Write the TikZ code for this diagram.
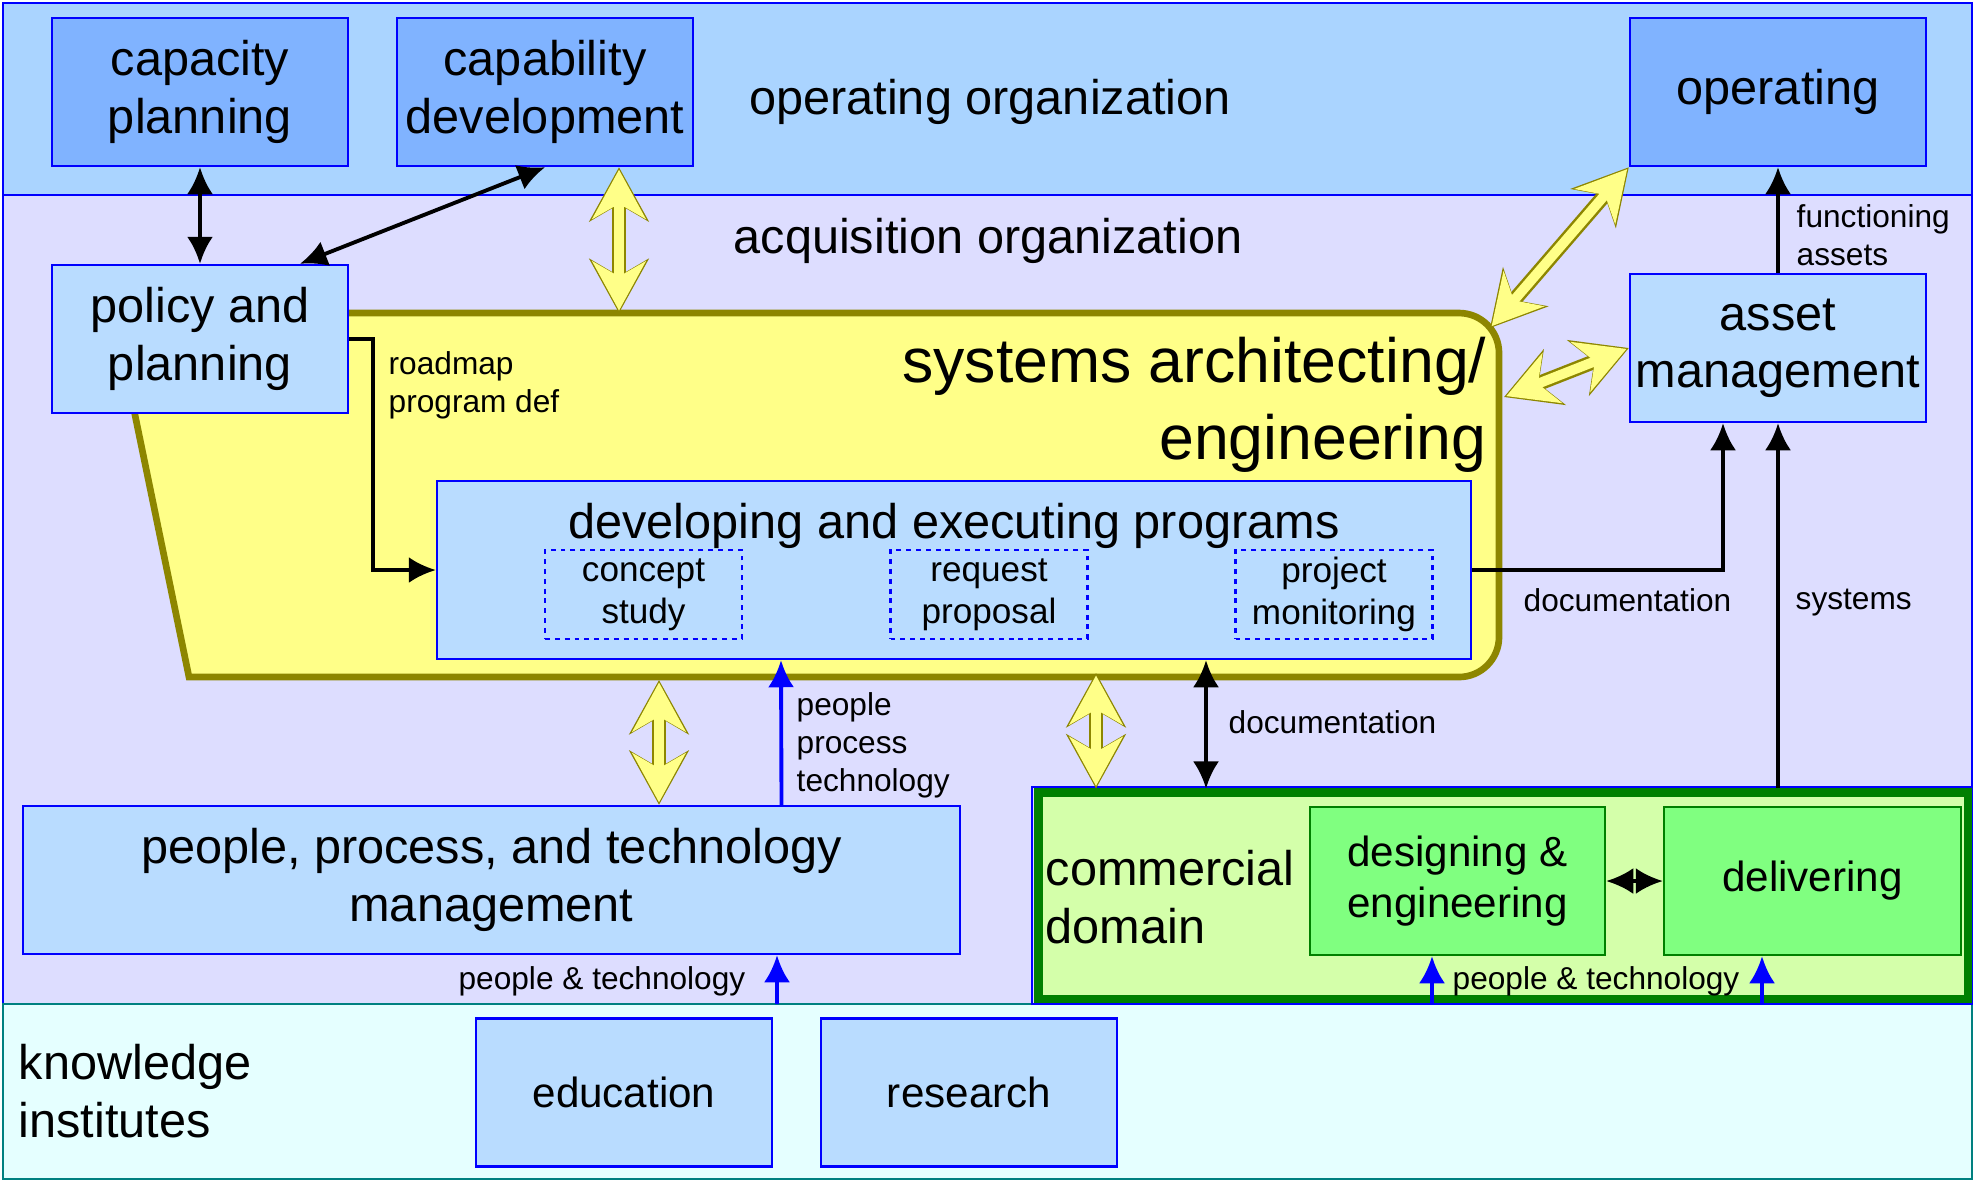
\documentclass[tikz,border=0pt]{standalone}
\usepackage{fontspec}
\setmainfont{Liberation Sans}
\usetikzlibrary{arrows.meta,calc,positioning}

\definecolor{opblue}{RGB}{170,212,255}
\definecolor{acqlav}{RGB}{221,221,255}
\definecolor{knowcyan}{RGB}{229,255,255}
\definecolor{knowteal}{RGB}{0,128,128}
\definecolor{boxdark}{RGB}{128,179,255}
\definecolor{boxlight}{RGB}{185,220,255}
\definecolor{saeyellow}{RGB}{255,255,136}
\definecolor{commgreen}{RGB}{212,255,170}
\definecolor{boxgreen}{RGB}{128,255,128}
\definecolor{darkgreen}{RGB}{0,128,0}

\tikzset{
myband/.style={
  rectangle,
  line width=0.7pt,
  draw=blue,
  inner sep=0pt,
  }
}
\tikzset{
mybox/.style={
  rectangle,
  line width=0.7pt,
  draw=blue,
  fill=boxlight,
  minimum width=2.96cm,
  minimum height=1.48cm,
  inner sep=0pt,
  align=center,
  font=\fontsize{13.85}{16.3}\selectfont,
  }
}
\tikzset{
mydarkbox/.style={
  mybox,
  fill=boxdark,
  }
}
\tikzset{
mygreenbox/.style={
  mybox,
  draw=darkgreen,
  fill=boxgreen,
  font=\fontsize{12}{14.3}\selectfont,
  }
}
\tikzset{
mydotbox/.style={
  rectangle,
  line width=0.6pt,
  draw=blue,
  dash pattern=on 1.4pt off 1.4pt,
  minimum width=1.97cm,
  minimum height=0.89cm,
  inner sep=0pt,
  align=center,
  font=\fontsize{10}{11.9}\selectfont,
  }
}
\tikzset{
mytext/.style={
  inner sep=0pt,
  align=left,
  font=\fontsize{13.85}{16.3}\selectfont,
  }
}
\tikzset{
mylabel/.style={
  inner sep=0pt,
  align=left,
  font=\fontsize{9}{10.8}\selectfont,
  }
}
\tikzset{
myline/.style={
  line width=1.1pt,
  -{Latex[length=2.7mm,width=2.6mm]}
  }
}
\tikzset{
mydblline/.style={
  line width=1.1pt,
  {Latex[length=2.7mm,width=2.6mm]}-{Latex[length=2.7mm,width=2.6mm]}
  }
}
\tikzset{
myblueline/.style={
  myline,
  draw=blue,
  }
}
\tikzset{
myfatline/.style={
  line width=2.8pt,
  draw=saeyellow,
  {Stealth[length=4.9mm,width=5.3mm,inset=1.5mm]}-{Stealth[length=4.9mm,width=5.3mm,inset=1.5mm]},
  shorten <=0.7pt,
  shorten >=0.7pt,
  preaction={draw=olive, line width=4.2pt, shorten <=0pt, shorten >=0pt,
    {Stealth[length=5.4mm,width=5.9mm,inset=1.7mm]}-{Stealth[length=5.4mm,width=5.9mm,inset=1.7mm]}},
  }
}

\begin{document}
\begin{tikzpicture}
    \useasboundingbox (0,0) rectangle (19.75,-11.82);

    % organization bands
    \node[myband, fill=opblue, minimum width=19.69cm, minimum height=1.92cm] (op_org) at (9.875,-0.99) {};
    \node[myband, fill=acqlav, minimum width=19.69cm, minimum height=8.09cm] (acq_org) at (9.875,-5.995) {};
    \node[myband, draw=knowteal, fill=knowcyan, minimum width=19.69cm, minimum height=1.75cm] (know_inst) at (9.875,-10.915) {};
    \node[mytext] (op_org_txt) at (9.90,-1.02) {operating organization};
    \node[mytext] (acq_org_txt) at (9.88,-2.41) {acquisition organization};
    \node[mytext, anchor=west] (know_inst_txt) at (0.18,-10.91) {knowledge\\institutes};

    % systems architecting part
    \path[draw=olive, line width=1.9pt, fill=saeyellow] (1.14,-3.13) -- (14.59,-3.13)
        arc[start angle=90, end angle=0, radius=0.4] -- (14.99,-6.37)
        arc[start angle=0, end angle=-90, radius=0.4] -- (1.89,-6.77) -- cycle;
    \node[mytext, anchor=east, align=right, font=\fontsize{17.8}{21.8}\selectfont] (sae_txt) at (14.87,-4.05) {systems architecting/\\engineering};
    \coordinate (sae_top) at (6.19,-3.13);
    \coordinate (sae_corner) at (14.90,-3.28);
    \coordinate (sae_right) at (15.04,-3.97);
    \coordinate (sae_bot1) at (6.59,-6.80);
    \coordinate (sae_bot2) at (10.96,-6.73);

    % operating part
    \node[mydarkbox] (cap_plan) at (2.00,-0.92) {capacity\\planning};
    \node[mydarkbox] (cap_dev) at (5.45,-0.92) {capability\\development};
    \node[mydarkbox] (operating) at (17.78,-0.92) {operating};

    % acquisition part
    \node[mybox] (pol_plan) at (2.00,-3.39) {policy and\\planning};
    \node[mybox] (asset_mgmt) at (17.78,-3.48) {asset\\management};
    \node[mybox, minimum width=10.34cm, minimum height=1.78cm] (dev_prog) at (9.54,-5.70) {};
    \node[mytext] (dev_prog_txt) at (9.54,-5.26) {developing and executing programs};
    \node[mydotbox] (concept) at (6.435,-5.945) {concept\\study};
    \node[mydotbox] (request) at (9.89,-5.945) {request\\proposal};
    \node[mydotbox] (project) at (13.34,-5.945) {project\\monitoring};
    \node[mybox, minimum width=9.37cm] (ppt_mgmt) at (4.915,-8.80) {people, process, and technology\\management};

    % commercial part
    \path[draw=blue, line width=0.6pt] (10.32,-7.87) rectangle (19.72,-10.04);
    \node[rectangle, draw=darkgreen, line width=2.3pt, fill=commgreen, minimum width=9.295cm, minimum height=2.065cm] (commercial) at (15.0325,-8.9575) {};
    \node[mytext, anchor=west] (commercial_txt) at (10.45,-8.97) {commercial\\domain};
    \node[mygreenbox, minimum width=2.95cm] (design_eng) at (14.575,-8.81) {designing \&\\engineering};
    \node[mygreenbox, minimum width=2.97cm] (delivering) at (18.125,-8.81) {delivering};

    % knowledge part
    \node[mybox, font=\fontsize{12}{14.3}\selectfont] (education) at (6.24,-10.925) {education};
    \node[mybox, font=\fontsize{12}{14.3}\selectfont] (research) at (9.69,-10.925) {research};

    % labels
    \node[mylabel, anchor=west] (roadmap) at (3.88,-3.85) {roadmap\\program def};
    \node[mylabel, anchor=west] (func_assets) at (17.96,-2.35) {functioning\\assets};
    \node[mylabel, anchor=west] (doc_right) at (15.23,-6.00) {documentation};
    \node[mylabel, anchor=west] (systems) at (17.95,-6.03) {systems};
    \node[mylabel, anchor=west] (doc_low) at (12.28,-7.22) {documentation};
    \node[mylabel, anchor=west] (ppt_lbl) at (7.96,-7.45) {people\\process\\technology};
    \node[mylabel, anchor=east] (pt_left) at (7.46,-9.81) {people \& technology};
    \node[mylabel] (pt_right) at (15.96,-9.81) {people \& technology};

    % organization edges
    \draw[mydblline] (cap_plan) -- (pol_plan);
    \draw[mydblline] (cap_dev.south) -- ([xshift=1cm]pol_plan.north);
    \draw[myline] (pol_plan.east) -- ++(0.24,0) |- (dev_prog.west);
    \draw[myline] (dev_prog.east) -| ([xshift=-0.55cm]asset_mgmt.south);
    \draw[myline] (asset_mgmt.south |- commercial.north) -- (asset_mgmt.south);
    \draw[myline] (asset_mgmt) -- (operating);
    \coordinate (doc_top) at ([xshift=2.52cm]dev_prog.south);
    \draw[mydblline] (doc_top) -- (doc_top |- commercial.north);
    \draw[mydblline] (design_eng.east) -- (delivering.west);

    % interaction edges
    \draw[myfatline] ([xshift=0.74cm]cap_dev.south) -- (sae_top);
    \draw[myfatline] (operating.south west) -- (sae_corner);
    \draw[myfatline] (asset_mgmt.west) -- (sae_right);
    \draw[myfatline] (sae_bot1) -- (sae_bot1 |- ppt_mgmt.north);
    \draw[myfatline] (sae_bot2) -- (sae_bot2 |- commercial.north);

    % knowledge edges
    \coordinate (ki_ppt) at (7.77,-10.04);
    \coordinate (ki_de) at (14.32,-10.04);
    \coordinate (ki_del) at (17.62,-10.04);
    \draw[myblueline] ([xshift=2.9cm]ppt_mgmt.north) -- ([xshift=-1.73cm]dev_prog.south);
    \draw[myblueline] (ki_ppt) -- ([xshift=2.855cm]ppt_mgmt.south);
    \draw[myblueline] (ki_de) -- ([xshift=-0.255cm]design_eng.south);
    \draw[myblueline] (ki_del) -- ([xshift=-0.505cm]delivering.south);
\end{tikzpicture}
\end{document}
